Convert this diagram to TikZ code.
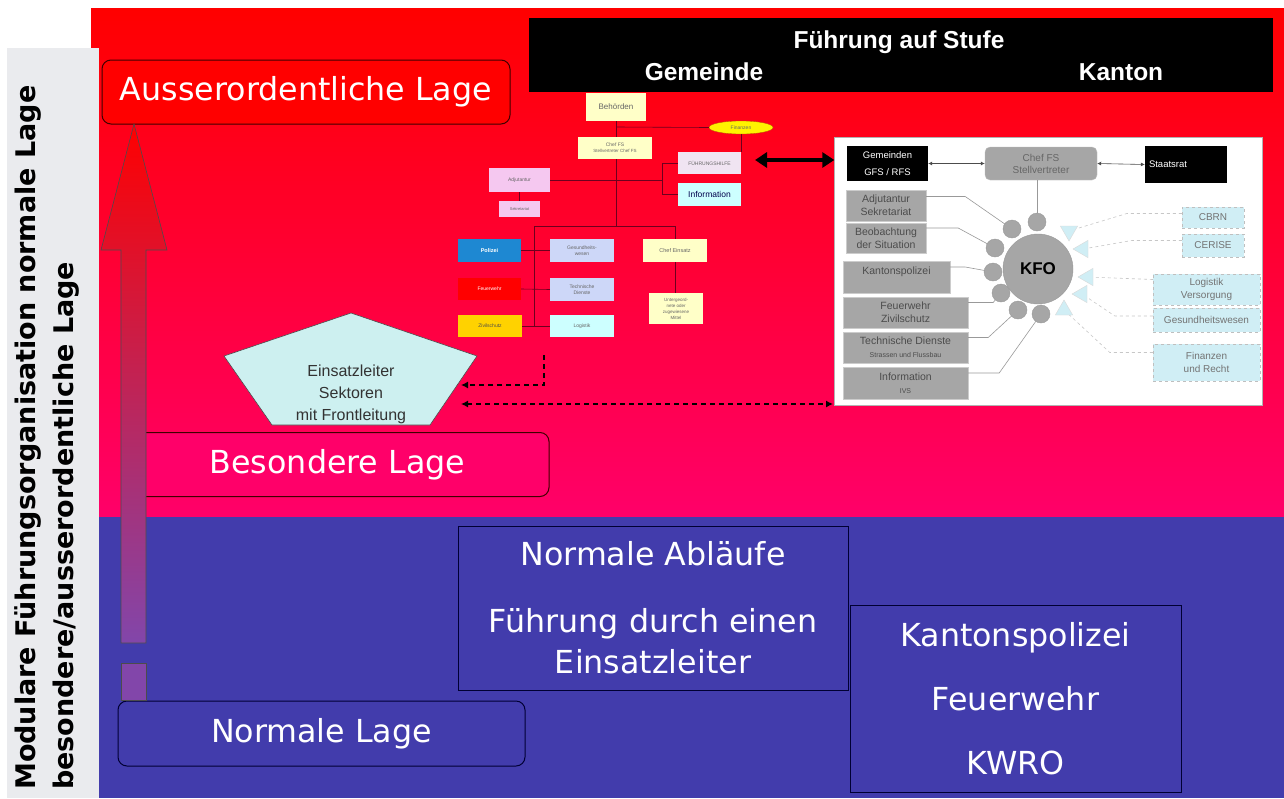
\documentclass[tikz,border=0pt]{standalone}
\usepackage{fontspec}
\setmainfont{Liberation Sans}
\newfontfamily\tah{DejaVu Sans}
\usetikzlibrary{shapes.geometric,arrows.meta}
\definecolor{bgred}{RGB}{255,0,0}
\definecolor{bgpink}{RGB}{255,0,105}
\definecolor{bgblue}{RGB}{66,60,172}
\definecolor{panelgray}{RGB}{234,235,238}
\definecolor{lyellow}{RGB}{255,255,200}
\definecolor{lpink}{RGB}{245,200,240}
\definecolor{llav}{RGB}{240,228,242}
\definecolor{lblue}{RGB}{205,215,248}
\definecolor{lcyan}{RGB}{205,255,255}
\definecolor{polblue}{RGB}{30,136,210}
\definecolor{zivgold}{RGB}{255,210,0}
\definecolor{kgray}{RGB}{166,166,166}
\definecolor{kcyan}{RGB}{208,238,245}
\definecolor{linered}{RGB}{110,0,30}
\definecolor{pentfill}{RGB}{205,240,240}
\definecolor{arrowpurple}{RGB}{130,70,170}
\tikzset{
  lagebox/.style={draw=black!75!red, rounded corners=9pt, line width=1pt, text=white, inner sep=0,
    font=\tah\fontsize{31.7}{38}\selectfont},
  flatbox/.style={draw=black!80!blue, line width=1pt, text=white, inner sep=0, align=center},
  bantext/.style={text=white, font=\bfseries\fontsize{24.5}{26}\selectfont, inner sep=0},
  orgbox/.style={inner sep=0, align=center, text=black!60, font=\fontsize{5}{6}\selectfont},
  orgline/.style={draw=linered, line width=0.6pt},
  dasharrow/.style={draw=black, line width=1.2pt, dash pattern=on 5pt off 4pt},
  blk/.style={fill=black, text=white, inner sep=0, align=center, font=\fontsize{9.5}{12}\selectfont},
  kbox/.style={fill=kgray, draw=black!20, inner sep=0, align=center, text=black!70, font=\fontsize{10.5}{13}\selectfont},
  rbox/.style={fill=kcyan, draw=black!25, dashed, inner sep=0, align=center, text=black!55, font=\fontsize{10}{13}\selectfont},
  sc/.style={circle, fill=kgray, draw=black!40, minimum size=18, inner sep=0},
  tri/.style={isosceles triangle, isosceles triangle apex angle=60, fill=kcyan, draw=black!15, minimum height=15, minimum width=17, inner sep=0},
  kline/.style={draw=black!40, line width=0.6pt},
  rline/.style={draw=black!22, line width=0.6pt, dashed}
}
\begin{document}
\begin{tikzpicture}[x=1pt,y=-1pt]
\useasboundingbox (0,0) rectangle (1284,798);
\fill[white] (0,0) rectangle (1284,798);
% backgrounds
\shade[top color=bgred, bottom color=bgpink] (91,8) rectangle (1284,517);
\fill[bgblue] (91,517) rectangle (1284,798);
\fill[panelgray] (7,48) rectangle (99,798);
\node[rotate=90, anchor=north west, align=left, inner sep=0, text=black,
  font=\tah\bfseries\fontsize{27}{38}\selectfont] (side) at (14,790)
  {Modulare Führungsorganisation normale Lage\\besondere/ausserordentliche Lage};

% Lage boxes
\node[lagebox, fill=bgred, minimum width=408, minimum height=64] (ao) at (306,92) {Ausserordentliche Lage};
\node[lagebox, fill=bgpink, minimum width=423, minimum height=64] (bl) at (337.5,464.5) {Besondere Lage};
\node[lagebox, fill=bgblue, draw=black!80!blue, minimum width=407, minimum height=65] (nl) at (321.5,733.5) {Normale Lage};

% vertical arrow
\shade[top color=bgred, bottom color=arrowpurple, draw=black!70, line width=0.6pt]
  (134,124) -- (167,250) -- (146,250) -- (146,643) -- (121,643) -- (121,250) -- (101,250) -- cycle;
\fill[arrowpurple, draw=black!70, line width=0.6pt] (121,663) rectangle (146,700);

% lower boxes
\node[flatbox, minimum width=390, minimum height=164, font=\tah\fontsize{31.7}{41}\selectfont] (na) at (653,608)
  {Normale Abläufe\\[26pt]Führung durch einen\\Einsatzleiter};
\node[flatbox, minimum width=331, minimum height=187, font=\tah\fontsize{31.7}{64}\selectfont] (kp) at (1015.5,699)
  {Kantonspolizei\\Feuerwehr\\KWRO};

% banner
\node[fill=black, minimum width=744, minimum height=74, inner sep=0] (banner) at (901,55) {};
\node[bantext] (stufe) at (899,42) {Führung auf Stufe};
\node[bantext] (gde) at (704,72) {Gemeinde};
\node[bantext] (kt) at (1121,72) {Kanton};

% pentagon
\draw[fill=pentfill, draw=black!70, line width=0.6pt] (351,313) -- (477,356) -- (430,425) -- (272,425) -- (224,356) -- cycle;
\node[align=center, inner sep=0, text=black!80, font=\fontsize{16}{22}\selectfont] (pent) at (351,394) {Einsatzleiter\\Sektoren\\mit Frontleitung};

% org chart (Gemeinde)
\node[orgbox, fill=lyellow, minimum width=60, minimum height=28, font=\fontsize{8}{9}\selectfont] (beh) at (616,107) {Behörden};
\node[ellipse, fill=yellow, draw=orange!70!black, line width=0.3pt, minimum width=64, minimum height=13, inner sep=0, text=black!60, font=\fontsize{5}{6}\selectfont] (fin) at (741,127.5) {Finanzen};
\node[orgbox, fill=lyellow, minimum width=74, minimum height=22] (chef) at (615,148) {Chef FS\\{\fontsize{4.5}{5.5}\selectfont Stellvertreter Chef FS}};
\node[orgbox, fill=llav, minimum width=63, minimum height=22] (fh) at (709.5,163) {FÜHRUNGSHILFE};
\node[orgbox, fill=lcyan, minimum width=63, minimum height=23, text=black!70!blue, font=\fontsize{8.5}{10}\selectfont] (info) at (709.5,194.5) {Information};
\node[orgbox, fill=lpink, minimum width=61, minimum height=24] (adj) at (519.5,180) {Adjutantur};
\node[orgbox, fill=lpink, minimum width=41, minimum height=16, font=\fontsize{4}{5}\selectfont] (sek) at (519.5,209) {Sekretariat};
\node[orgbox, fill=polblue, text=white, minimum width=63, minimum height=23, font=\bfseries\fontsize{5.5}{6}\selectfont] (pol) at (489.5,250.5) {Polizei};
\node[orgbox, fill=red, text=white, minimum width=63, minimum height=22] (fw) at (489.5,289) {Feuerwehr};
\node[orgbox, fill=zivgold, text=black!70, minimum width=64, minimum height=22] (ziv) at (490,326) {Zivilschutz};
\node[orgbox, fill=lblue, minimum width=64, minimum height=23] (ges) at (582,250.5) {Gesundheits-\\wesen};
\node[orgbox, fill=lblue, minimum width=64, minimum height=23] (tech) at (582,289.5) {Technische\\Dienste};
\node[orgbox, fill=lcyan, minimum width=64, minimum height=22] (log) at (582,326) {Logistik};
\node[orgbox, fill=lyellow, minimum width=64, minimum height=23, font=\fontsize{5.5}{6}\selectfont] (chefe) at (675,250.5) {Chef Einsatz};
\node[orgbox, fill=lyellow, minimum width=54, minimum height=31, font=\fontsize{4.5}{6}\selectfont] (unter) at (676,308.5) {Untergeord-\\nete oder\\zugewiesene\\Mittel};

\draw[orgline] (beh.south) -- (beh.south |- chef.north);
\coordinate (j1) at (616,127);
\draw[orgline] (j1) -- (fin.west);
\draw[orgline] (fin.south) -- (fin.south |- fh.north);
\coordinate (j2) at (616,226);
\draw[orgline] (chef.south -| j2) -- (j2);
\coordinate (jl) at (534,226);
\coordinate (jb) at (534,327);
\draw[orgline] (jl) -- (chefe.north |- jl) -- (chefe.north);
\draw[orgline] (jl) -- (jb);
\draw[orgline] (pol.east) -- (ges.west);
\draw[orgline] (fw.east) -- (tech.west);
\draw[orgline] (ziv.east) -- (log.west);
\coordinate (ja) at (662,180);
\draw[orgline] (adj.east) -- (ja);
\draw[orgline] (fh.west) -| (ja) |- (info.west);
\draw[orgline] (adj.south) -- (sek.north);
\draw[orgline] (chefe.south) -- (chefe.south |- unter.north);

% KFO panel
\node[fill=white, draw=black!30, minimum width=428, minimum height=268, inner sep=0] (panel) at (1048.5,271.5) {};
\node[blk, minimum width=81, minimum height=35] (gem) at (887.5,163.5) {Gemeinden\\[5pt]GFS / RFS};
\node[blk, minimum width=82, minimum height=37, text width=74, align=left] (staat) at (1186,164.5) {Staatsrat};
\node[fill=kgray, draw=black!25, rounded corners=5pt, minimum width=112, minimum height=33, inner sep=0, align=center, text=black!60, font=\fontsize{10}{12}\selectfont] (cfs) at (1041,163.5) {Chef FS\\Stellvertreter};
\draw[draw=black!70, line width=0.6pt, {Latex[length=4pt,width=4pt]}-{Latex[length=4pt,width=4pt]}] (gem.east) -- (cfs.west);
\draw[draw=black!70, line width=0.6pt, {Latex[length=4pt,width=4pt]}-{Latex[length=4pt,width=4pt]}] (cfs.east) -- (staat.west);

\node[kbox, minimum width=80, minimum height=31] (adj2) at (886,205.5) {Adjutantur\\Sekretariat};
\node[kbox, minimum width=80, minimum height=30] (beo) at (886,238) {Beobachtung\\der Situation};
\node[kbox, minimum width=107, minimum height=32] (kap) at (896.5,277) {Kantonspolizei\\\mbox{}};
\node[kbox, minimum width=125, minimum height=31] (fz) at (905.5,312.5) {Feuerwehr\\Zivilschutz};
\node[kbox, minimum width=125, minimum height=31] (td) at (905.5,347.5) {Technische Dienste\\{\fontsize{7}{8}\selectfont Strassen und Flussbau}};
\node[kbox, minimum width=125, minimum height=32] (inf) at (905.5,383) {Information\\{\fontsize{7}{8}\selectfont IVS}};

\node[rbox, minimum width=62, minimum height=21] (cbrn) at (1213,217.5) {CBRN};
\node[rbox, minimum width=62, minimum height=23] (cer) at (1213,245.5) {CERISE};
\node[rbox, minimum width=107, minimum height=31] (logv) at (1206.5,289.5) {Logistik\\Versorgung};
\node[rbox, minimum width=107, minimum height=24] (ges2) at (1206.5,320) {Gesundheitswesen};
\node[rbox, minimum width=107, minimum height=37] (finr) at (1206.5,362.5) {Finanzen\\und Recht};

\coordinate (t1c) at (1069,231);
\coordinate (t2c) at (1083,249);
\coordinate (t3c) at (1088,277);
\coordinate (t4c) at (1082,294);
\coordinate (t5c) at (1064,310);

\coordinate (c1) at (1012,229);
\coordinate (c2) at (1037,222);
\coordinate (c3) at (995,248);
\coordinate (c4) at (993,272);
\coordinate (c5) at (1001,293);
\coordinate (c6) at (1018,310);
\coordinate (c7) at (1041,314);

\draw[kline] (cfs.south -| c2) -- (c2);
\draw[kline] ([yshift=9pt]adj2.east) -- ++(39,0) -- (c1);
\draw[kline] ([yshift=10pt]beo.east) -- ++(32,0) -- (c3);
\draw[kline] ([yshift=10pt]kap.east) -- ++(15,0) -- (c4);
\draw[kline] ([yshift=10pt]fz.east) -- ++(25,0) -- (c5);
\draw[kline] ([yshift=10pt]td.east) -- ++(20,0) -- (c6);
\draw[kline] ([yshift=10pt]inf.east) -- ++(31,0) -- (c7);
\draw[rline] ([yshift=4pt]cbrn.west) -- ++(-55,0) -- (t1c);
\draw[rline] ([yshift=5pt]cer.west) -- ++(-50,0) -- (t2c);
\draw[rline] ([yshift=10pt]logv.west) -- (t3c);
\draw[rline] ([yshift=4pt]ges2.west) -- ++(-38,0) -- (t4c);
\draw[rline] ([yshift=10pt]finr.west) -- ++(-43,0) -- (t5c);

\node[sc] (s1) at (c1) {};
\node[sc] (s2) at (c2) {};
\node[sc] (s3) at (c3) {};
\node[sc] (s4) at (c4) {};
\node[sc] (s5) at (c5) {};
\node[sc] (s6) at (c6) {};
\node[sc] (s7) at (c7) {};
\node[circle, fill=kgray, draw=black!40, minimum size=70, inner sep=0, text=black, font=\bfseries\fontsize{17}{18}\selectfont] (kfo) at (1038,269) {KFO};
\node[tri, shape border rotate=230] (t1) at (t1c) {};
\node[tri, shape border rotate=204] (t2) at (t2c) {};
\node[tri, shape border rotate=171] (t3) at (t3c) {};
\node[tri, shape border rotate=150] (t4) at (t4c) {};
\node[tri, shape border rotate=127] (t5) at (t5c) {};

% arrows between parts
\coordinate (fhr) at (755,160);
\coordinate (pl) at (panel.west |- fhr);
\draw[line width=3.5pt, {Triangle[width=15pt,length=12pt]}-{Triangle[width=15pt,length=12pt]}] (fhr) -- (pl);
\coordinate (d1) at (544,355);
\coordinate (d1b) at (544,385);
\coordinate (pe1) at (461,385);
\draw[dasharrow, -{Latex[length=7pt,width=7pt]}] (d1) -- (d1b) -- (pe1);
\coordinate (pe2) at (461,404);
\coordinate (pr2) at (833,404);
\draw[dasharrow, {Latex[length=7pt,width=7pt]}-{Latex[length=7pt,width=7pt]}] (pe2) -- (pr2);
\end{tikzpicture}
\end{document}
